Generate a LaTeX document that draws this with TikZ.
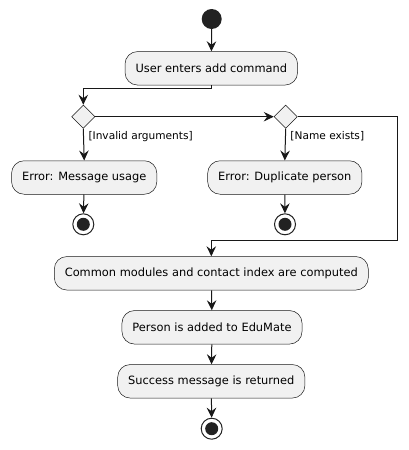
\documentclass[tikz,border=0pt]{standalone}
\usepackage{fontspec}
\setmainfont{DejaVu Sans}
\usepackage{tikz}
\usetikzlibrary{arrows.meta,positioning,shapes.geometric}
\definecolor{actfill}{HTML}{F1F1F1}
\definecolor{actline}{HTML}{181818}
\definecolor{dotfill}{HTML}{222222}

\begin{document}
\begin{tikzpicture}[
    x=1pt, y=-1pt,
    action/.style={draw=actline, fill=actfill, rounded corners=12.5pt, line width=0.5pt,
        minimum height=33.5pt, inner xsep=10.5pt, font=\fontsize{11.4}{13}\selectfont},
    decision/.style={diamond, draw=actline, fill=actfill, line width=0.5pt,
        minimum width=23.4pt, minimum height=23.4pt, inner sep=0},
    startdot/.style={circle, fill=dotfill, minimum size=20pt, inner sep=0},
    stopring/.style={circle, draw=dotfill, line width=1pt, fill=white, minimum size=21pt, inner sep=0,
        path picture={\fill[dotfill] (path picture bounding box.center) circle (6.5pt);}},
    guard/.style={font=\fontsize{10.6}{12}\selectfont, anchor=west, inner sep=0, xshift=4.5pt},
    flow/.style={-{Stealth[length=10pt,width=9.5pt,inset=3.5pt]}, line width=1pt, draw=actline}]
\useasboundingbox (0,0) rectangle (408,450);

% main line
\node[startdot] (start) at (211.7,19) {};
\node[action] (usrcmd) at (211.3,68.3) {User enters add command};

% the two checks
\node[decision] (chkargs) at (83.3,116.7) {};
\node[decision] (chkname) at (285.7,116.7) {};
\node[action] (errusage) at (84.2,177.5) {Error: Message usage};
\node[action] (errdup) at (284.8,177.5) {Error: Duplicate person};
\node[stopring] (stopargs) at (83.3,224.3) {};
\node[stopring] (stopname) at (285,224.3) {};
\coordinate (bypass) at (397.7,240.7);

% success path
\node[action] (common) at (211.3,273.3) {Common modules and contact index are computed};
\node[action] (added) at (212,327.3) {Person is added to EduMate};
\node[action] (success) at (211.3,381.3) {Success message is returned};
\node[stopring] (stopok) at (211.7,428.7) {};

\draw[flow] (start) -- (usrcmd);
\draw[flow] (usrcmd.south) -- ++(0,3) -| (chkargs.north);
\draw[flow] (chkargs.east) -- (chkname.west);
\draw[flow] (chkargs.south) -- node[guard, pos=0.24] {[Invalid arguments]} (errusage.north);
\draw[flow] (chkname.south) -- node[guard, pos=0.24] {[Name exists]} (errdup.north);
\draw[flow] (errusage) -- (stopargs);
\draw[flow] (errdup) -- (stopname);
\draw[flow] (chkname.east) -| (bypass) -| (common.north);
\draw[flow] (common) -- (added);
\draw[flow] (added) -- (success);
\draw[flow] (success) -- (stopok);

\end{tikzpicture}
\end{document}
